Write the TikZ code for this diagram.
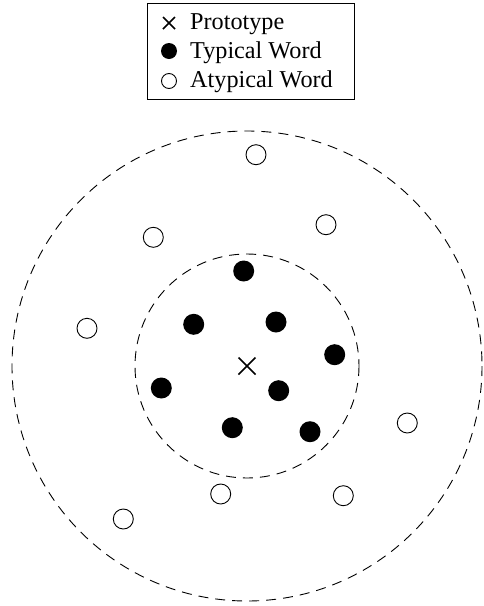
\documentclass[tikz,border=0pt]{standalone}
\usepackage{fontspec}
\setmainfont{Liberation Serif}
\usetikzlibrary{positioning,calc}

\begin{document}
\begin{tikzpicture}[x=1pt,y=-1pt,
  typical/.style={fill=black},
  atypical/.style={draw=black,line width=0.9pt,fill=white},
  boundary/.style={draw=black,line width=0.9pt,dash pattern=on 10pt off 7pt},
  crossmark/.style={draw=black,line width=1.7pt},
  legendtext/.style={anchor=base west,inner sep=0pt,font=\fontsize{24.2}{27}\selectfont}]
  \useasboundingbox (0,0) rectangle (483,606);
  % 图例
  \draw[line width=0.8pt] (147,3) rectangle (354,99);
  \draw[crossmark,line width=1.6pt] (163,17) -- (175,29) (163,29) -- (175,17);
  \fill[typical] (169,51) circle (8);
  \draw[atypical] (169,81) circle (7.5);
  \node[legendtext] (lproto) at (190,29.5) {Prototype};
  \node[legendtext] (ltyp) at (190,58.5) {Typical Word};
  \node[legendtext] (latyp) at (190,87.5) {Atypical Word};
  % 两个虚线圆，原型在圆心
  \coordinate (proto) at (247,366);
  \draw[boundary] (proto) circle (235);
  \draw[boundary] (proto) circle (112);
  \draw[crossmark] ($(proto)+(-8.5,-8.5)$) -- ($(proto)+(8.5,8.5)$)
                   ($(proto)+(-8.5,8.5)$) -- ($(proto)+(8.5,-8.5)$);
  % 典型词
  \foreach \p in {(243.7,271),(193.7,324.3),(276,322),(334.7,354.7),
                  (161.3,388),(278.7,390.7),(232.3,427.7),(310,431.7)}
    \fill[typical] \p circle (10.5);
  % 非典型词
  \foreach \p in {(256,154.7),(326,224.7),(153.3,237.3),(87,328.3),
                  (407.3,423),(220.7,494),(343.3,495.7),(123.3,519)}
    \draw[atypical] \p circle (10);
\end{tikzpicture}
\end{document}
